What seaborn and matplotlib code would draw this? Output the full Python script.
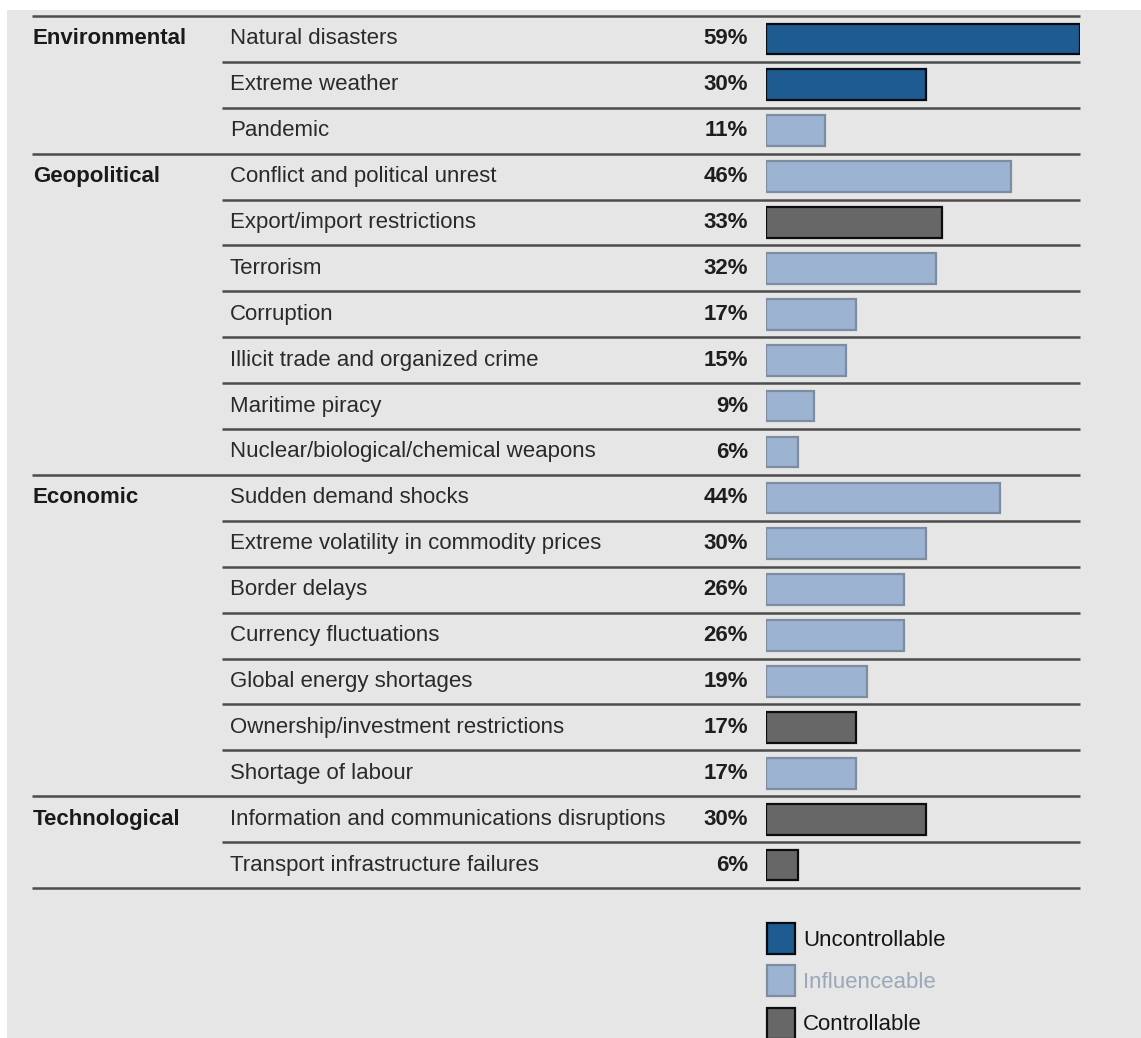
import pandas as pd
import seaborn as sns
import matplotlib.pyplot as plt
from matplotlib.patches import Rectangle
from matplotlib.transforms import blended_transform_factory

# Risk groups and how many risks belong to each
groups = ["Environmental", "Geopolitical", "Economic", "Technological"]
group_sizes = [3, 7, 7, 2]

risks = [
    "Natural disasters", "Extreme weather", "Pandemic",
    "Conflict and political unrest", "Export/import restrictions", "Terrorism",
    "Corruption", "Illicit trade and organized crime", "Maritime piracy",
    "Nuclear/biological/chemical weapons",
    "Sudden demand shocks", "Extreme volatility in commodity prices", "Border delays",
    "Currency fluctuations", "Global energy shortages", "Ownership/investment restrictions",
    "Shortage of labour",
    "Information and communications disruptions", "Transport infrastructure failures",
]
shares = [59, 30, 11, 46, 33, 32, 17, 15, 9, 6, 44, 30, 26, 26, 19, 17, 17, 30, 6]
control = [
    "Uncontrollable", "Uncontrollable", "Influenceable",
    "Influenceable", "Controllable", "Influenceable", "Influenceable",
    "Influenceable", "Influenceable", "Influenceable",
    "Influenceable", "Influenceable", "Influenceable", "Influenceable",
    "Influenceable", "Controllable", "Influenceable",
    "Controllable", "Controllable",
]
levels = ["Uncontrollable", "Influenceable", "Controllable"]

fill = {"Uncontrollable": "#1d5b90", "Influenceable": "#9cb3d2", "Controllable": "#676767"}
edge = {"Uncontrollable": "#050a14", "Influenceable": "#7d8c9e", "Controllable": "#0d0d0d"}
label_color = {"Uncontrollable": "#151515", "Influenceable": "#9aa8b8", "Controllable": "#151515"}

df = pd.DataFrame({"risk": risks, "share": shares, "control": control})

sns.set_theme(style="white")
plt.rcParams["font.family"] = ["Liberation Sans", "DejaVu Sans"]

BG = "#e6e6e6"
W, H = 1141, 1038
fig = plt.figure(figsize=(W / 100, H / 100), dpi=100, facecolor=BG)
# thin white margin along the top and left edges
fig.patches.append(Rectangle((0, 1 - 10 / H), 1, 10 / H, transform=fig.transFigure,
                             facecolor="white", edgecolor="none", zorder=0))
fig.patches.append(Rectangle((0, 0), 7 / W, 1, transform=fig.transFigure,
                             facecolor="white", edgecolor="none", zorder=0))

top_px, bottom_px = 16, 888
ax = fig.add_axes([766 / W, 1 - bottom_px / H, 314 / W, (bottom_px - top_px) / H])
ax.set_facecolor("none")

sns.barplot(data=df, x="share", y="risk", hue="control", hue_order=levels,
            palette=fill, order=risks, dodge=False, width=0.67, saturation=1,
            legend=False, ax=ax)
for cont, lvl in zip(ax.containers, levels):
    for bar in cont:
        bar.set_edgecolor(edge[lvl])
        bar.set_linewidth(1.6)

n = len(risks)
ax.set_xlim(0, max(shares))
ax.set_ylim(n - 0.5, -0.5)
ax.axis("off")

trans = blended_transform_factory(fig.transFigure, ax.transData)
fs = 16

# separator lines: full width between groups, indented between risks
group_starts = [sum(group_sizes[:k]) for k in range(len(groups))]
boundaries = set(group_starts) | {n}
for b in range(n + 1):
    x0 = 32 / W if b in boundaries else 222 / W
    ax.plot([x0, 1080 / W], [b - 0.5, b - 0.5], transform=trans, clip_on=False,
            color="#4c4c4c", lw=1.8, solid_capstyle="butt")

for i, (risk, v) in enumerate(zip(risks, shares)):
    ax.text(230 / W, i, risk, transform=trans, ha="left", va="center",
            fontsize=fs, color="#2a2a2a")
    ax.text(748 / W, i, f"{v}%", transform=trans, ha="right", va="center",
            fontsize=fs, fontweight="bold", color="#1e1e1e")

for g, s in zip(groups, group_starts):
    ax.text(33 / W, s, g, transform=trans, ha="left", va="center",
            fontsize=fs, fontweight="bold", color="#1a1a1a")

# legend: swatch + label for each control level
leg_top = [923, 965, 1008]
for lvl, y in zip(levels, leg_top):
    fig.patches.append(Rectangle((767 / W, 1 - (y + 31) / H), 28 / W, 31 / H,
                                 transform=fig.transFigure, facecolor=fill[lvl],
                                 edgecolor=edge[lvl], linewidth=1.6))
    fig.text(803 / W, 1 - (y + 17) / H, lvl, ha="left", va="center",
             fontsize=fs, color=label_color[lvl])

fig.savefig("out.png", dpi=100, facecolor=BG)
